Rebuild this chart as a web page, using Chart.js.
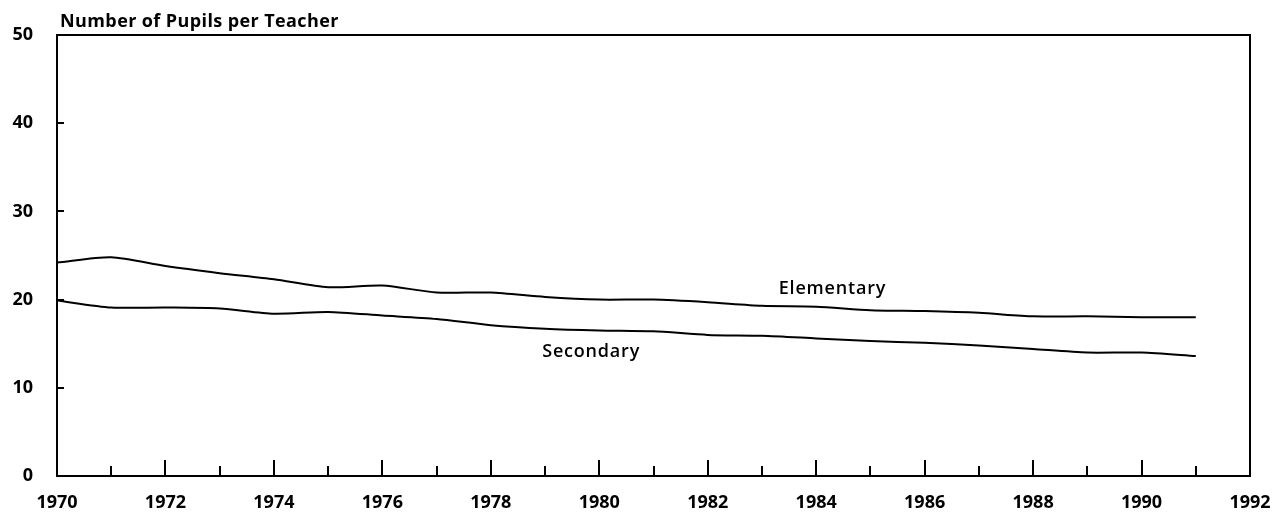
<!DOCTYPE html>
<html lang="en">
  <head>
    <meta charset="UTF-8" />
    <title>Number of Pupils per Teacher</title>
    <style>
      html,
      body {
        margin: 0;
        padding: 0;
        background: #fff;
      }
      .wrap {
        width: 1286px;
        height: 521px;
      }
    </style>
    <script src="https://cdn.jsdelivr.net/npm/chart.js"></script>
  </head>
  <body>
    <div class="wrap">
      <canvas id="pupilsChart" width="1286" height="521"></canvas>
    </div>
    <script>
      const years = [
        1970, 1971, 1972, 1973, 1974, 1975, 1976, 1977, 1978, 1979, 1980,
        1981, 1982, 1983, 1984, 1985, 1986, 1987, 1988, 1989, 1990, 1991,
      ];
      const elementary = [
        24.2, 24.8, 23.8, 23.0, 22.3, 21.4, 21.6, 20.8, 20.8, 20.3, 20.0,
        20.0, 19.7, 19.3, 19.2, 18.8, 18.7, 18.5, 18.1, 18.1, 18.0, 18.0,
      ];
      const secondary = [
        19.9, 19.1, 19.1, 19.0, 18.4, 18.6, 18.2, 17.8, 17.1, 16.7, 16.5,
        16.4, 16.0, 15.9, 15.6, 15.3, 15.1, 14.8, 14.4, 14.0, 14.0, 13.6,
      ];
      const yTicks = [0, 10, 20, 30, 40, 50];
      const titleText = "Number of Pupils per Teacher";
      // series labels placed in data coordinates
      const seriesLabels = [
        { text: "Elementary", year: 1984.3, value: 21.2 },
        { text: "Secondary", year: 1979.85, value: 14.1 },
      ];

      const fontFamily = "'Open Sans', 'Liberation Sans', sans-serif";

      // frame, inward ticks, title and series labels
      const framePlugin = {
        id: "frame",
        afterDraw(chart) {
          const { ctx, chartArea } = chart;
          const x = chart.scales.x;
          const y = chart.scales.y;
          ctx.save();
          ctx.strokeStyle = "#000";
          ctx.lineWidth = 2;
          ctx.strokeRect(
            chartArea.left,
            chartArea.top,
            chartArea.right - chartArea.left,
            chartArea.bottom - chartArea.top
          );
          // bottom ticks pointing up
          for (let yr = 1971; yr <= 1991; yr++) {
            const px = Math.round(x.getPixelForValue(yr));
            const len = yr % 2 === 0 ? 16 : 10;
            ctx.beginPath();
            ctx.moveTo(px, chartArea.bottom);
            ctx.lineTo(px, chartArea.bottom - len);
            ctx.stroke();
          }
          // left ticks pointing right
          yTicks.slice(1, -1).forEach((v) => {
            const py = Math.round(y.getPixelForValue(v));
            ctx.beginPath();
            ctx.moveTo(chartArea.left, py);
            ctx.lineTo(chartArea.left + 7, py);
            ctx.stroke();
          });
          ctx.fillStyle = "#000";
          ctx.textBaseline = "alphabetic";
          ctx.textAlign = "left";
          ctx.font = "700 18px " + fontFamily;
          ctx.letterSpacing = "0.4px";
          ctx.fillText(titleText, chartArea.left + 3, chartArea.top - 8);
          ctx.textAlign = "center";
          ctx.textBaseline = "middle";
          ctx.font = "600 18px " + fontFamily;
          ctx.letterSpacing = "0.8px";
          seriesLabels.forEach((l) => {
            ctx.fillText(
              l.text,
              x.getPixelForValue(l.year),
              y.getPixelForValue(l.value)
            );
          });
          ctx.restore();
        },
      };

      const data = {
        datasets: [
          {
            label: "Elementary",
            data: years.map((yr, i) => ({ x: yr, y: elementary[i] })),
            borderColor: "#000",
            borderWidth: 2,
            pointRadius: 0,
            tension: 0.25,
          },
          {
            label: "Secondary",
            data: years.map((yr, i) => ({ x: yr, y: secondary[i] })),
            borderColor: "#000",
            borderWidth: 2,
            pointRadius: 0,
            tension: 0.25,
          },
        ],
      };

      const config = {
        type: "line",
        data: data,
        options: {
          responsive: false,
          animation: false,
          layout: {
            padding: { top: 35, right: 36, left: 0, bottom: 0 },
          },
          plugins: {
            legend: { display: false },
            tooltip: { enabled: false },
          },
          scales: {
            x: {
              type: "linear",
              min: 1970,
              max: 1992,
              border: { display: false },
              grid: { display: false },
              afterFit(scale) {
                scale.height = 45;
              },
              ticks: {
                stepSize: 2,
                padding: 8,
                maxRotation: 0,
                autoSkip: false,
                color: "#000",
                font: { family: fontFamily, size: 18, weight: "bold" },
                callback: (v) => String(v),
              },
            },
            y: {
              min: 0,
              max: 50,
              border: { display: false },
              grid: { display: false },
              afterFit(scale) {
                scale.width = 57;
              },
              afterBuildTicks(scale) {
                scale.ticks = yTicks.map((v) => ({ value: v }));
              },
              ticks: {
                padding: 16,
                color: "#000",
                font: { family: fontFamily, size: 18, weight: "bold" },
              },
            },
          },
        },
        plugins: [framePlugin],
      };

      const pupilsChart = new Chart(
        document.getElementById("pupilsChart"),
        config
      );
    </script>
  </body>
</html>
